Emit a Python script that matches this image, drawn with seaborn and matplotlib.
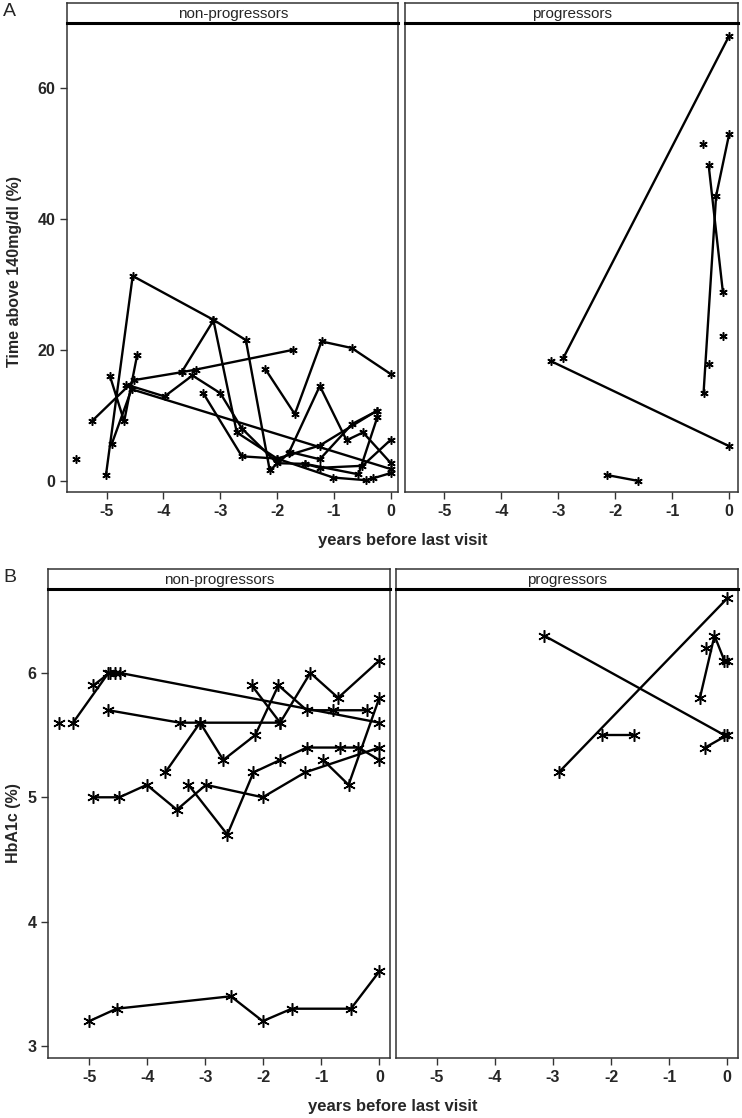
import matplotlib
matplotlib.use("Agg")
import matplotlib.pyplot as plt
import seaborn as sns
import pandas as pd

sns.set_style("white")
plt.rcParams['font.family'] = ['Liberation Sans', 'DejaVu Sans']

# ---- A: time above 140 mg/dl (%), non-progressors (one list pair per subject)
np_time_x = [
    [-5.01, -4.54, -3.12, -2.55, -2.13, -1.80, -1.25, -0.78, -0.49, 0.0],
    [-2.21, -1.69, -1.22, -0.69, 0.0],
    [-5.26, -4.51, -3.68, -3.43, -1.73],
    [-3.68, -3.12, -2.71, -2.00, -1.25, -0.25],
    [-4.94, -4.69, -4.46],
    [-4.91, -4.56, 0.0],
    [-4.65, -3.98, -3.49, -3.00, -2.62, -2.00, -1.51, -0.57, -0.24],
    [-3.30, -2.62, -2.00, -1.01, -0.43, -0.31, 0.0],
    [-1.77, -1.25, -0.68, -0.24],
    [-1.51, -1.25, -0.50, 0.0],
    [-5.54],
]
np_time_y = [
    [0.9, 31.3, 24.6, 21.5, 1.6, 4.2, 14.5, 6.2, 7.4, 2.7],
    [17.1, 10.2, 21.3, 20.3, 16.3],
    [9.1, 15.4, 16.6, 17.0, 20.0],
    [16.6, 24.5, 7.4, 3.4, 5.4, 10.7],
    [16.0, 9.1, 19.3],
    [5.6, 14.0, 1.8],
    [14.7, 12.9, 16.1, 13.4, 8.0, 2.7, 2.6, 1.0, 9.7],
    [13.4, 3.75, 3.4, 0.5, 0.1, 0.4, 1.2],
    [4.4, 3.3, 8.7, 10.7],
    [2.6, 2.0, 2.3, 6.3],
    [3.4],
]
# ---- A: progressors
pr_time_x = [[-2.91, 0.0], [-3.13, 0.0], [-2.15, -1.60], [-0.36, -0.11],
             [-0.45, -0.23, 0.0], [-0.46], [-0.36], [-0.10]]
pr_time_y = [[18.8, 68.0], [18.3, 5.3], [0.9, 0.0], [48.2, 28.8],
             [13.4, 43.5, 53.0], [51.5], [17.8], [22.1]]

# ---- B: HbA1c (%), non-progressors
np_hba_x = [
    [-5.28, -4.67, -4.56, -4.47, 0.0],
    [-4.93, -4.65],
    [-5.53],
    [-4.67, -3.44, -3.09, -1.71],
    [-2.20, -1.71, -1.19, -0.71, 0.0],
    [-3.69, -3.09, -2.69, -2.14, -1.74, -1.25, -0.80, -0.22],
    [-4.93, -4.48, -4.01, -3.49, -2.99, -2.01, -1.28, 0.0],
    [-3.29, -2.62, -2.17, -1.71, -1.25, -0.68, -0.36, 0.0],
    [-0.97, -0.53, 0.0],
    [-5.00, -4.53, -2.56, -2.01, -1.51, -0.49, 0.0],
]
np_hba_y = [
    [5.6, 6.0, 6.0, 6.0, 5.6],
    [5.9, 6.0],
    [5.6],
    [5.7, 5.6, 5.6, 5.6],
    [5.9, 5.6, 6.0, 5.8, 6.1],
    [5.2, 5.6, 5.3, 5.5, 5.9, 5.7, 5.7, 5.7],
    [5.0, 5.0, 5.1, 4.9, 5.1, 5.0, 5.2, 5.4],
    [5.1, 4.7, 5.2, 5.3, 5.4, 5.4, 5.4, 5.3],
    [5.3, 5.1, 5.8],
    [3.2, 3.3, 3.4, 3.2, 3.3, 3.3, 3.6],
]
# ---- B: progressors
pr_hba_x = [[-3.15, -0.05], [-2.90, 0.0], [-2.15, -1.60], [-0.47, -0.22, -0.05],
            [-0.38, 0.0], [-0.36], [0.0]]
pr_hba_y = [[6.3, 5.5], [5.2, 6.6], [5.5, 5.5], [5.8, 6.3, 6.1],
            [5.4, 5.5], [6.2], [6.1]]


def to_frame(xs, ys):
    rows = []
    for sid, (xx, yy) in enumerate(zip(xs, ys)):
        for a, b in zip(xx, yy):
            rows.append({"sid": sid, "years": a, "value": b})
    return pd.DataFrame(rows)


W, H = 742, 1118
fig = plt.figure(figsize=(W / 100, H / 100), dpi=100)


def box(l, t, r, b):
    return [l / W, 1 - b / H, (r - l) / W, (b - t) / H]


def panel(rect, strip_rect, df, title, xlim, ylim, yticks, ms, show_y):
    ax = fig.add_axes(rect)
    sns.lineplot(data=df, x="years", y="value", units="sid", estimator=None,
                 sort=True, color="black", lw=1.7, marker=(6, 2, 0),
                 markersize=ms, markeredgecolor="black", mew=1.1,
                 legend=False, ax=ax)
    ax.set_xlim(*xlim)
    ax.set_ylim(*ylim)
    ax.set_xticks([-5, -4, -3, -2, -1, 0])
    ax.set_xticklabels(["-5", "-4", "-3", "-2", "-1", "0"], fontweight="bold", fontsize=11.5)
    ax.set_xlabel("")
    ax.set_ylabel("")
    if show_y:
        ax.set_yticks(yticks)
        ax.set_yticklabels([str(v) for v in yticks], fontweight="bold", fontsize=11.5)
        ax.tick_params(axis="y", length=5, width=1, color="#333333", direction="out", left=True)
    else:
        ax.set_yticks([])
    ax.tick_params(axis="x", length=5, width=1, color="#333333", direction="out", bottom=True)
    for s in ax.spines.values():
        s.set_color("#333333")
        s.set_linewidth(1.1)
    sx = fig.add_axes(strip_rect)
    sx.set_xticks([])
    sx.set_yticks([])
    for s in sx.spines.values():
        s.set_color("#333333")
        s.set_linewidth(1.1)
    sx.spines["bottom"].set_linewidth(2.2)
    sx.spines["bottom"].set_color("black")
    sx.text(0.5, 0.45, title, ha="center", va="center", fontsize=11, transform=sx.transAxes)
    return ax


top_ylim = (-1.7, 69.9)
bot_ylim = (2.906, 6.675)

ax1 = panel(box(67.3, 23.3, 398.3, 492), box(67.3, 3.3, 398.3, 23.3),
            to_frame(np_time_x, np_time_y), "non-progressors",
            (-5.69, 0.13), top_ylim, [0, 20, 40, 60], 6, True)
ax2 = panel(box(405, 23.3, 738.3, 492), box(405, 3.3, 738.3, 23.3),
            to_frame(pr_time_x, pr_time_y), "progressors",
            (-5.69, 0.16), top_ylim, [], 6, False)
ax3 = panel(box(48.3, 589, 390, 1057.7), box(48.3, 569, 390, 589),
            to_frame(np_hba_x, np_hba_y), "non-progressors",
            (-5.707, 0.184), bot_ylim, [3, 4, 5, 6], 9, True)
ax4 = panel(box(396, 589, 738.3, 1057.7), box(396, 569, 738.3, 589),
            to_frame(pr_hba_x, pr_hba_y), "progressors",
            (-5.70, 0.19), bot_ylim, [], 9, False)

ax1.set_ylabel("Time above 140mg/dl (%)", fontweight="bold", fontsize=11.5)
ax1.yaxis.set_label_coords(-(67.3 - 22) / 331.0, 0.47)
ax3.set_ylabel("HbA1c (%)", fontweight="bold", fontsize=11.5)
ax3.yaxis.set_label_coords(-(48.3 - 21) / 341.7, 0.5)

fig.text(403 / W, 1 - 541 / H, "years before last visit", ha="center", va="center",
         fontweight="bold", fontsize=12)
fig.text(393 / W, 1 - 1106 / H, "years before last visit", ha="center", va="center",
         fontweight="bold", fontsize=12)
fig.text(3 / W, 1 - 11 / H, "A", ha="left", va="center", fontsize=14)
fig.text(3 / W, 1 - 577 / H, "B", ha="left", va="center", fontsize=14)

fig.savefig("out.png", dpi=100, facecolor="white")
